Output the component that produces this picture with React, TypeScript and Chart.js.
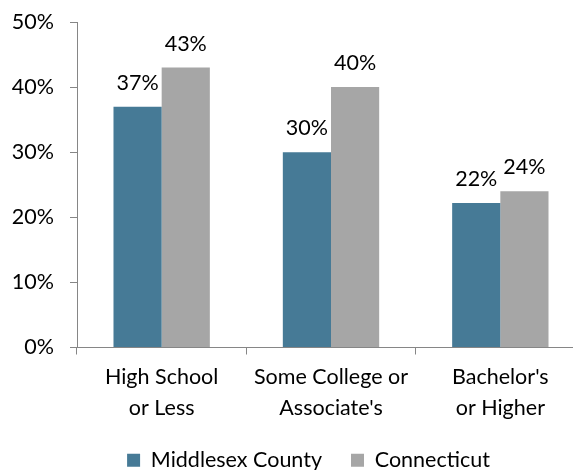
import React, { useEffect, useRef } from "react";
import { Chart, registerables } from "chart.js";

Chart.register(...registerables);

const categories: string[][] = [
  ["High School", "or Less"],
  ["Some College or", "Associate's"],
  ["Bachelor's", "or Higher"],
];
const seriesNames = ["Middlesex County", "Connecticut"];
const middlesexValues = [37, 30, 22.2];
const connecticutValues = [43, 40, 24];
const seriesColors = ["#467A96", "#A6A6A6"];
const yMin = 0;
const yMax = 50;
const yStep = 10;

const FONT = "Lato";
const FONT_SIZE = 21.5;
const AXIS_COLOR = "#868686";
const TEXT_COLOR = "#000000";

const valueLabels = {
  id: "valueLabels",
  afterDatasetsDraw(chart: any) {
    const ctx = chart.ctx;
    ctx.save();
    ctx.font = `${FONT_SIZE}px ${FONT}`;
    ctx.fillStyle = TEXT_COLOR;
    ctx.textAlign = "center";
    ctx.textBaseline = "alphabetic";
    chart.data.datasets.forEach((ds: any, i: number) => {
      const meta = chart.getDatasetMeta(i);
      meta.data.forEach((bar: any, j: number) => {
        const v = ds.data[j] as number;
        ctx.fillText(Math.round(v) + "%", bar.x, bar.y - 17);
      });
    });
    ctx.restore();
  },
};

// let the y tick labels extend left of the (narrow) y-axis box without being clipped
const widenYLabelArea = {
  id: "widenYLabelArea",
  afterLayout(chart: any) {
    if (chart.scales.y) chart.scales.y.left = 0;
  },
};

export default function App() {
  const ref = useRef<HTMLCanvasElement | null>(null);

  useEffect(() => {
    if (!ref.current) return;
    const chart = new Chart(ref.current, {
      type: "bar",
      data: {
        labels: categories,
        datasets: [
          {
            label: seriesNames[0],
            data: middlesexValues,
            backgroundColor: seriesColors[0],
            categoryPercentage: 0.569,
            barPercentage: 1,
          },
          {
            label: seriesNames[1],
            data: connecticutValues,
            backgroundColor: seriesColors[1],
            categoryPercentage: 0.569,
            barPercentage: 1,
          },
        ],
      },
      options: {
        responsive: false,
        animation: false,
        layout: { padding: { left: 32, right: 5, top: 22, bottom: 0 } },
        plugins: {
          tooltip: { enabled: false },
          legend: {
            position: "bottom",
            labels: {
              boxWidth: 13,
              boxHeight: 13,
              padding: 29,
              color: TEXT_COLOR,
              font: { family: FONT, size: FONT_SIZE },
            },
          },
        },
        scales: {
          x: {
            afterFit: (s: any) => {
              s.height = 73;
            },
            grid: {
              display: true,
              drawOnChartArea: false,
              drawTicks: true,
              tickLength: 7,
              color: AXIS_COLOR,
              offset: true,
            },
            border: { display: true, color: AXIS_COLOR, width: 1 },
            ticks: {
              color: TEXT_COLOR,
              padding: 8,
              maxRotation: 0,
              autoSkip: false,
              font: { family: FONT, size: FONT_SIZE, lineHeight: 1.4 },
            },
          },
          y: {
            min: yMin,
            max: yMax,
            afterFit: (s: any) => {
              s.width = 45;
              s.paddingTop = 0;
              s.paddingBottom = 0;
            },
            grid: {
              drawOnChartArea: false,
              drawTicks: true,
              tickLength: 7,
              color: AXIS_COLOR,
            },
            border: { display: true, color: AXIS_COLOR, width: 1 },
            ticks: {
              stepSize: yStep,
              padding: 16,
              color: TEXT_COLOR,
              font: { family: FONT, size: FONT_SIZE },
              callback: (v: any) => v + "%",
            },
          },
        },
      },
      plugins: [valueLabels, widenYLabelArea],
    });
    return () => chart.destroy();
  }, []);

  return (
    <div
      style={{
        position: "fixed",
        left: 0,
        top: 0,
        width: 573,
        height: 470,
        overflow: "hidden",
        background: "#fff",
      }}
    >
      <canvas ref={ref} width={590} height={481} style={{ display: "block" }} />
    </div>
  );
}
